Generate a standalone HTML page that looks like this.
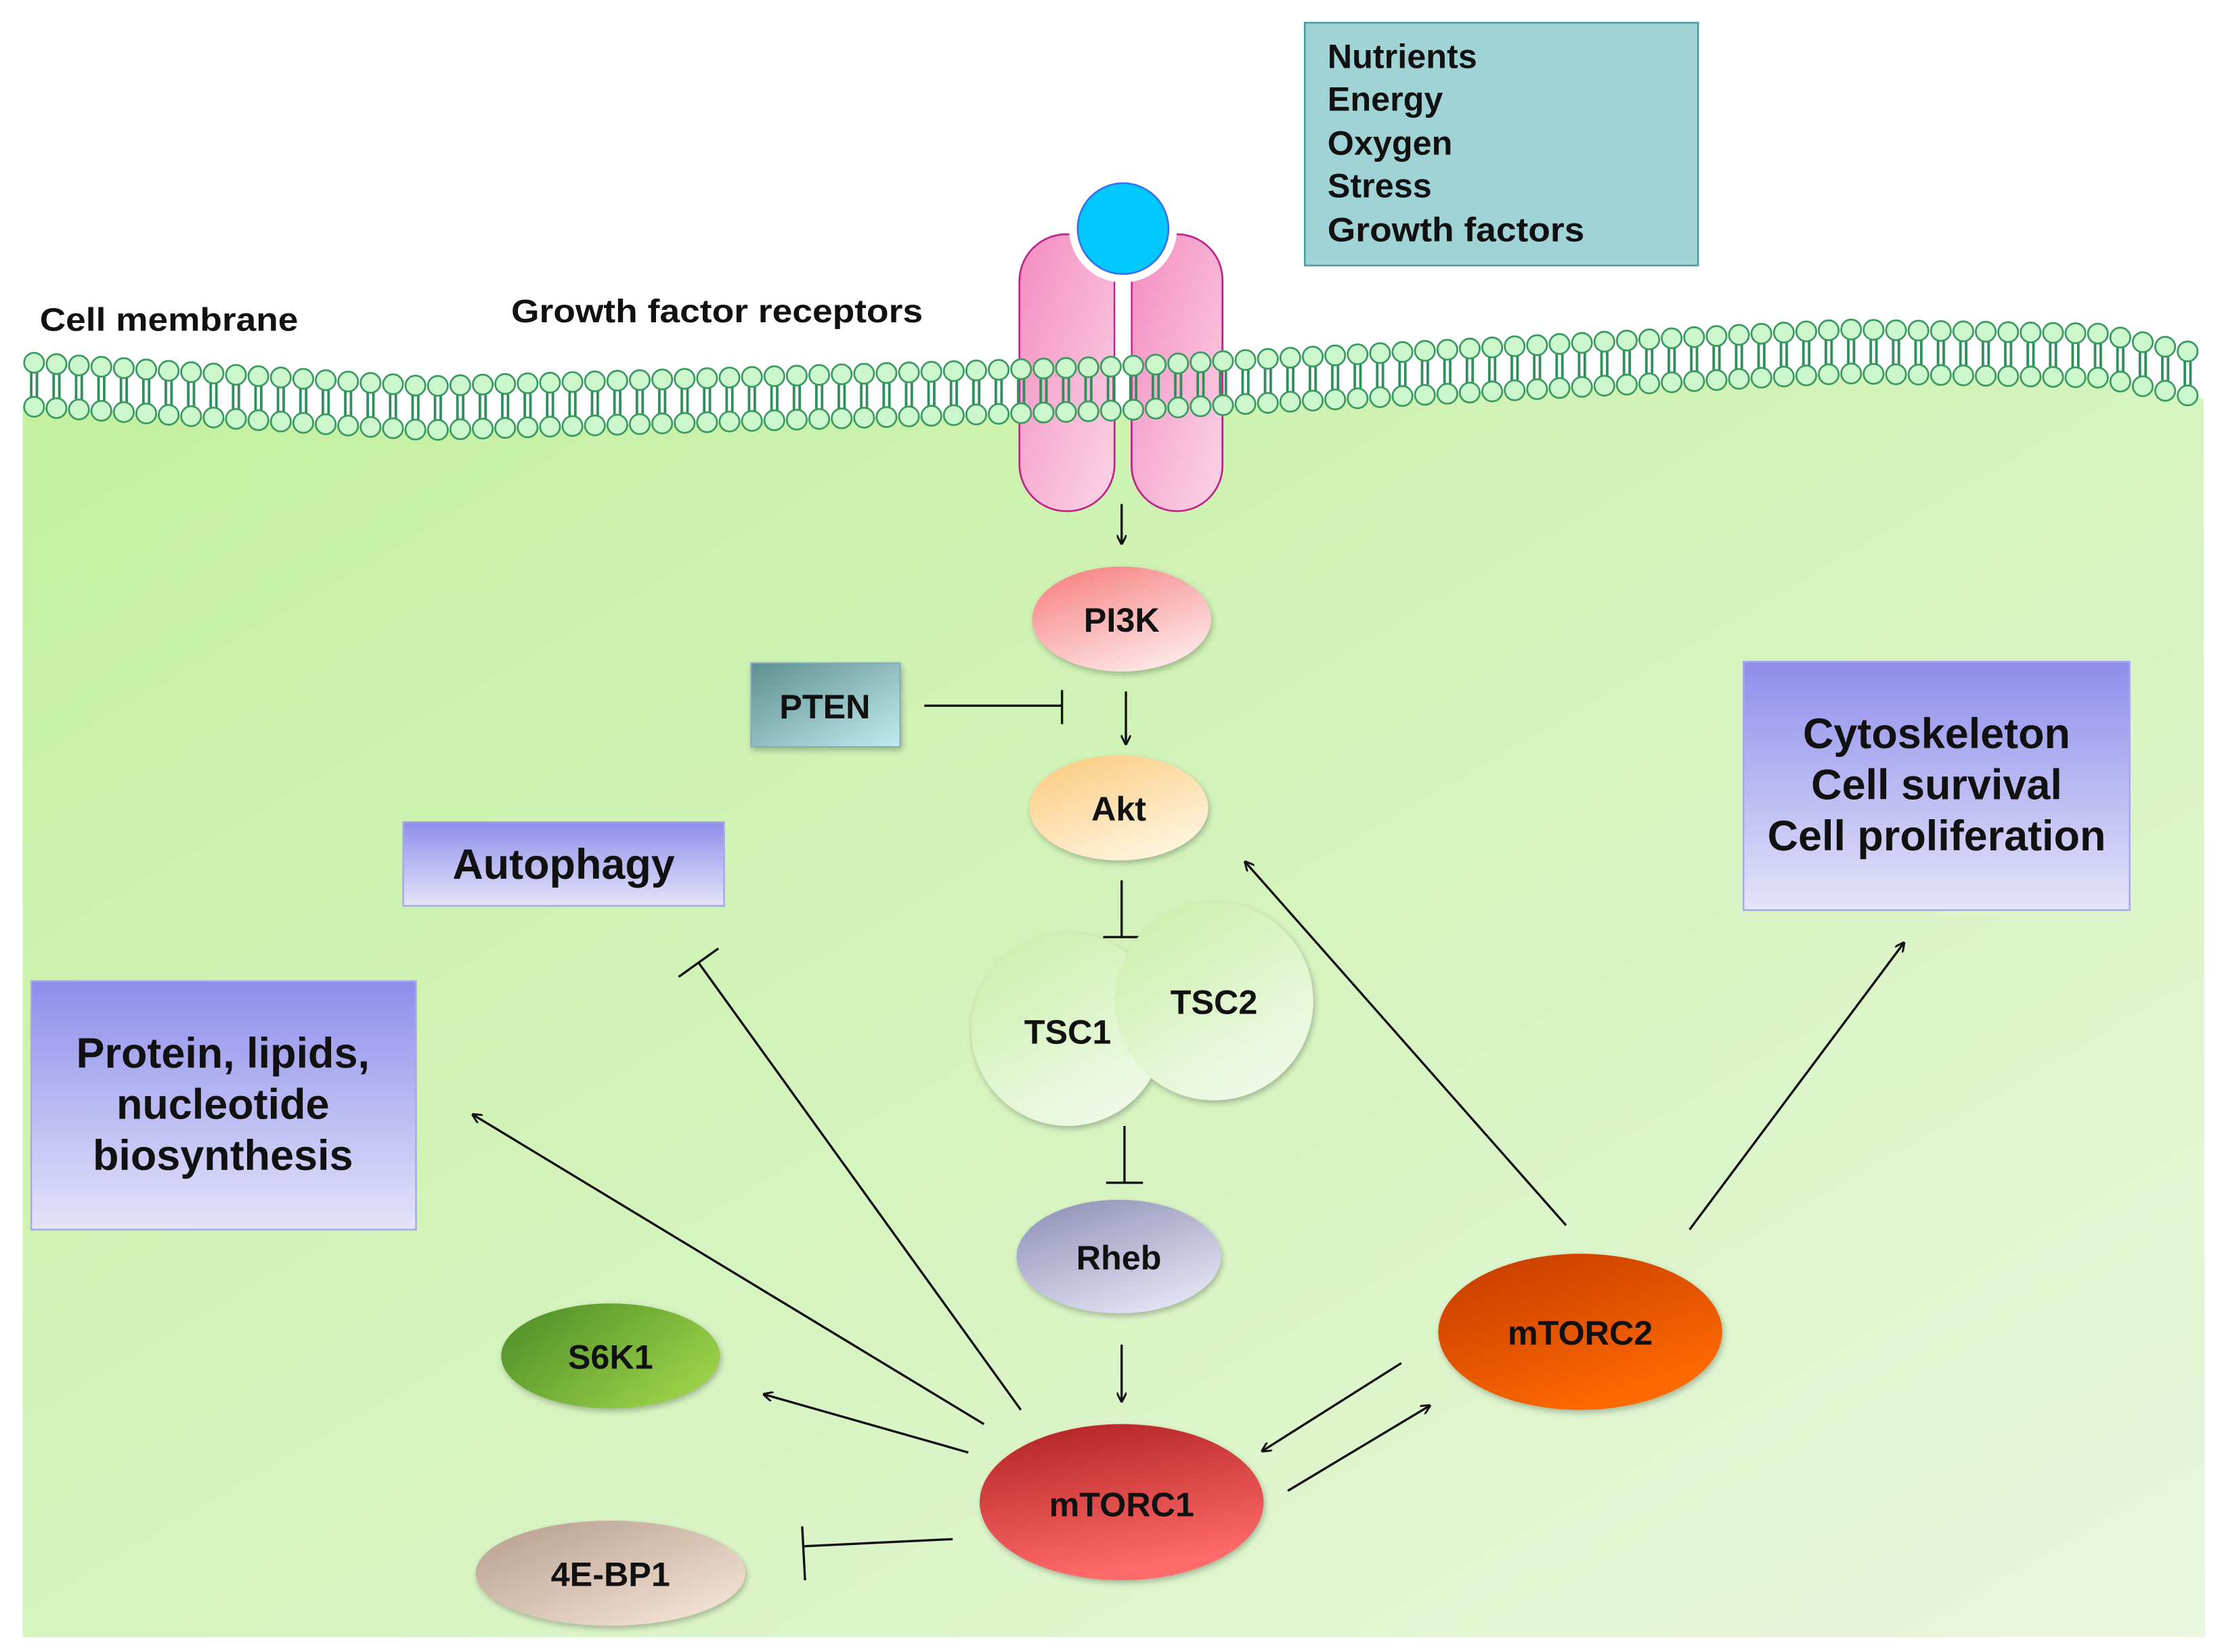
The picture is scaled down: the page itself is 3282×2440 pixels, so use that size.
<!DOCTYPE html>
<html><head><meta charset="utf-8"><style>
html,body{margin:0;padding:0;background:#fff;}
svg{display:block;}
text{font-family:"Liberation Sans",Arial,sans-serif;font-weight:bold;fill:#111;}
</style></head><body>
<svg id="s" width="3282" height="2440" viewBox="0 0 1565 1163.5" preserveAspectRatio="none" xmlns="http://www.w3.org/2000/svg">
<defs>
<linearGradient id="bg" x1="0" y1="0" x2="1" y2="1"><stop offset="0" stop-color="#c3f09f"/><stop offset="1" stop-color="#e8f7dd"/></linearGradient>
<linearGradient id="rcp" x1="0" y1="0" x2="1" y2="1"><stop offset="0" stop-color="#f48cc0"/><stop offset="1" stop-color="#fbd5e6"/></linearGradient>
<linearGradient id="pi3k" x1="0" y1="0" x2="0.6" y2="1"><stop offset="0" stop-color="#f77a7a"/><stop offset="1" stop-color="#fde4e4"/></linearGradient>
<linearGradient id="akt" x1="0" y1="0" x2="0.6" y2="1"><stop offset="0" stop-color="#fcc97a"/><stop offset="1" stop-color="#fef3dc"/></linearGradient>
<linearGradient id="tsc" x1="0" y1="0" x2="0.6" y2="1"><stop offset="0" stop-color="#c8f0a8"/><stop offset="1" stop-color="#eef9e6"/></linearGradient>
<linearGradient id="rheb" x1="0" y1="0" x2="0.6" y2="1"><stop offset="0" stop-color="#8c8cb4"/><stop offset="1" stop-color="#e0e0f2"/></linearGradient>
<linearGradient id="m1" x1="0" y1="0" x2="0.3" y2="1"><stop offset="0" stop-color="#b02020"/><stop offset="1" stop-color="#ff6a6a"/></linearGradient>
<linearGradient id="m2" x1="0" y1="0" x2="0.6" y2="1"><stop offset="0" stop-color="#c23a00"/><stop offset="1" stop-color="#ff6a00"/></linearGradient>
<linearGradient id="s6" x1="0" y1="0" x2="1" y2="0.6"><stop offset="0" stop-color="#4a8a26"/><stop offset="1" stop-color="#9ad048"/></linearGradient>
<linearGradient id="bp" x1="0" y1="0" x2="1" y2="1"><stop offset="0" stop-color="#b49c8c"/><stop offset="1" stop-color="#fbeadc"/></linearGradient>
<linearGradient id="box" x1="0" y1="0" x2="0" y2="1"><stop offset="0" stop-color="#8e8eec"/><stop offset="1" stop-color="#e4e4fa"/></linearGradient>
<linearGradient id="pten" x1="0" y1="0" x2="1" y2="1"><stop offset="0" stop-color="#5f8f90"/><stop offset="1" stop-color="#c2ecef"/></linearGradient>
<marker id="ar" viewBox="0 0 10 10" refX="9" refY="5" markerWidth="7" markerHeight="7" orient="auto" markerUnits="userSpaceOnUse"><path d="M0,0 L10,5 L0,10" fill="none" stroke="#111" stroke-width="2"/></marker>
</defs>
<g id="bgg"></g>
<rect x="718" y="165" width="67" height="195" rx="33" fill="url(#rcp)" stroke="#c0248a" stroke-width="1.3"/>
<rect x="797" y="165" width="64" height="195" rx="32" fill="url(#rcp)" stroke="#c0248a" stroke-width="1.3"/>
<rect x="785.5" y="160" width="11" height="105" fill="#fff"/>
<circle cx="791" cy="161" r="38" fill="#fff"/>
<circle cx="791" cy="161" r="32" fill="#00c8ff" stroke="#3a6cf0" stroke-width="1.2"/>
<g id="mem"></g>
<text x="28" y="233" font-size="23" textLength="182" lengthAdjust="spacingAndGlyphs">Cell membrane</text>
<text x="360" y="227" font-size="23" textLength="290" lengthAdjust="spacingAndGlyphs">Growth factor receptors</text>
<rect x="919" y="16" width="277" height="171" fill="#9fd3d6" stroke="#4a9aa0" stroke-width="1.2"/>
<g font-size="24"><text x="935" y="48">Nutrients</text><text x="935" y="78">Energy</text><text x="935" y="109">Oxygen</text><text x="935" y="139">Stress</text><text x="935" y="170" textLength="181" lengthAdjust="spacingAndGlyphs">Growth factors</text></g>
<g stroke="#111" stroke-width="1.6" fill="none">
<line x1="790" y1="355" x2="790" y2="383" marker-end="url(#ar)"/>
<line x1="793" y1="487" x2="793" y2="524" marker-end="url(#ar)"/>
<line x1="651" y1="497" x2="748" y2="497"/><line x1="748" y1="486" x2="748" y2="510"/>
<line x1="790" y1="620" x2="790" y2="660"/><line x1="777" y1="660" x2="803" y2="660"/>
<line x1="792" y1="793" x2="792" y2="833"/><line x1="779" y1="833" x2="805" y2="833"/>
<line x1="790" y1="947" x2="790" y2="987" marker-end="url(#ar)"/>
<line x1="682" y1="1023" x2="538" y2="982" marker-end="url(#ar)"/>
<line x1="671" y1="1084" x2="566" y2="1089"/><line x1="565" y1="1075" x2="567" y2="1113"/>
<line x1="693" y1="1003" x2="333" y2="785" marker-end="url(#ar)"/>
<line x1="719" y1="993" x2="492" y2="678"/><line x1="478" y1="688" x2="506" y2="668"/>
<line x1="987" y1="960" x2="889" y2="1022" marker-end="url(#ar)"/>
<line x1="907" y1="1050" x2="1007" y2="990" marker-end="url(#ar)"/>
<line x1="1103" y1="863" x2="877" y2="607" marker-end="url(#ar)"/>
<line x1="1190" y1="866" x2="1341" y2="664" marker-end="url(#ar)"/>
</g>
<g style="filter:drop-shadow(1px 2px 2px rgba(0,0,0,0.25))">
<ellipse cx="790" cy="436" rx="63" ry="37" fill="url(#pi3k)"/>
<rect x="529" y="467" width="105" height="59" fill="url(#pten)" stroke="#8ab" stroke-width="1"/>
<ellipse cx="788" cy="569" rx="63" ry="37" fill="url(#akt)"/>
<circle cx="752" cy="725" r="68" fill="url(#tsc)"/>
<circle cx="855" cy="705" r="70" fill="url(#tsc)"/>
<ellipse cx="788" cy="885" rx="72" ry="40" fill="url(#rheb)"/>
<ellipse cx="790" cy="1058" rx="100" ry="55" fill="url(#m1)"/>
<ellipse cx="1113" cy="938" rx="100" ry="55" fill="url(#m2)"/>
<ellipse cx="430" cy="955" rx="77" ry="37" fill="url(#s6)"/>
<ellipse cx="430" cy="1108" rx="95" ry="37" fill="url(#bp)"/>
</g>
<rect x="284" y="579" width="226" height="59" fill="url(#box)" stroke="#a8a8e8" stroke-width="1.2"/>
<rect x="22" y="691" width="271" height="175" fill="url(#box)" stroke="#a8a8e8" stroke-width="1.2"/>
<rect x="1228" y="466" width="272" height="175" fill="url(#box)" stroke="#a8a8e8" stroke-width="1.2"/>
<g font-size="24" text-anchor="middle">
<text x="790" y="445">PI3K</text>
<text x="581" y="506">PTEN</text>
<text x="788" y="578">Akt</text>
<text x="752" y="735">TSC1</text>
<text x="855" y="714">TSC2</text>
<text x="788" y="894">Rheb</text>
<text x="790" y="1068">mTORC1</text>
<text x="1113" y="947">mTORC2</text>
<text x="430" y="964">S6K1</text>
<text x="430" y="1117">4E-BP1</text>
</g>
<g font-size="30" text-anchor="middle">
<text x="397" y="619">Autophagy</text>
<text x="157" y="752">Protein, lipids,</text>
<text x="157" y="788">nucleotide</text>
<text x="157" y="824">biosynthesis</text>
<text x="1364" y="527">Cytoskeleton</text>
<text x="1364" y="563">Cell survival</text>
<text x="1364" y="599">Cell proliferation</text>
</g>
</svg>
<script>
(function(){
var NS="http://www.w3.org/2000/svg";
var pts=[[16,255],[300,272],[790,258],[1300,232],[1480,235],[1553,250]];
function cy(x){for(var i=0;i<pts.length-1;i++){if(x<=pts[i+1][0]){var a=pts[i],b=pts[i+1];return a[1]+(b[1]-a[1])*(x-a[0])/(b[0]-a[0]);}}return pts[pts.length-1][1];}
var bg=document.getElementById("bgg");
var d="M16,"+(cy(16)+31);
for(var x=16;x<=1553;x+=8)d+=" L"+x+","+(cy(x)+31);
d+=" L1553,1153 L16,1153 Z";
var p=document.createElementNS(NS,"path");p.setAttribute("d",d);p.setAttribute("fill","url(#bg)");bg.appendChild(p);
var m=document.getElementById("mem");var h="";
for(var x=24;x<=1546;x+=15.8){var y=cy(x);
h+='<line x1="'+(x-2)+'" y1="'+(y+6)+'" x2="'+(x-2)+'" y2="'+(y+25)+'" stroke="#2f8f5a" stroke-width="1.8"/>';
h+='<line x1="'+(x+2)+'" y1="'+(y+6)+'" x2="'+(x+2)+'" y2="'+(y+25)+'" stroke="#2f8f5a" stroke-width="1.8"/>';
h+='<circle cx="'+x+'" cy="'+y+'" r="7" fill="#ccf7cc" stroke="#3a9a62" stroke-width="1.3"/>';
h+='<circle cx="'+x+'" cy="'+(y+31)+'" r="7" fill="#ccf7cc" stroke="#3a9a62" stroke-width="1.3"/>';}
m.innerHTML=h;
})();
</script>
</body></html>
